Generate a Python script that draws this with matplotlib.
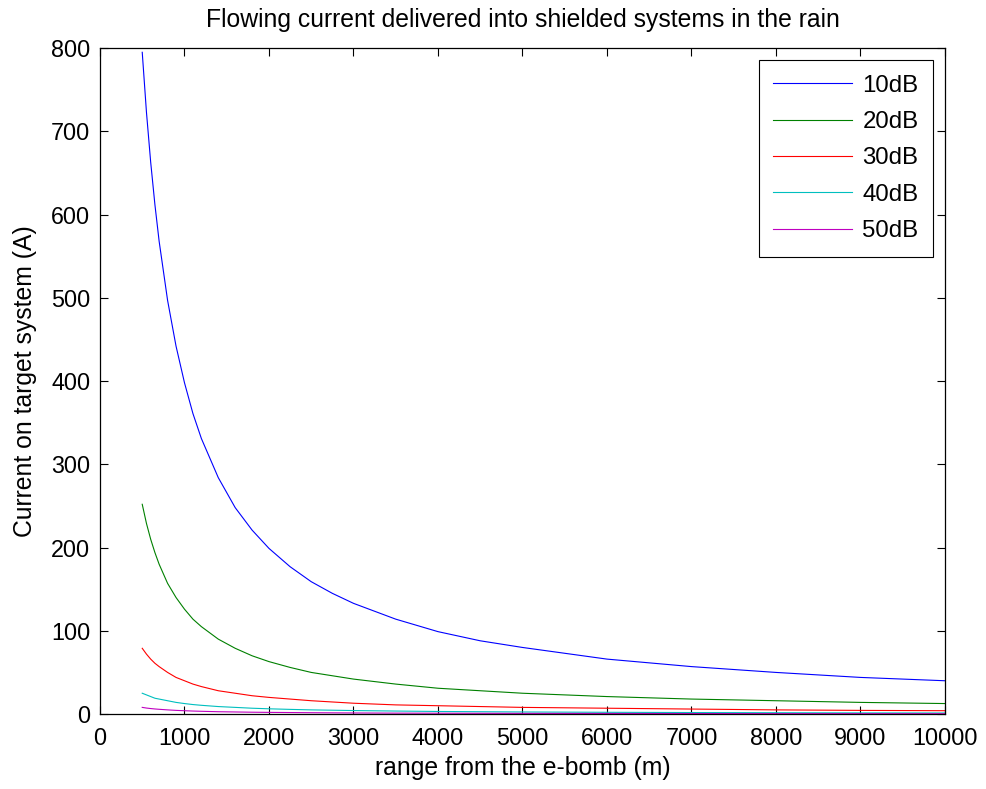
import numpy as np
import matplotlib.pyplot as plt

plt.rcParams['font.family'] = ['Liberation Sans', 'DejaVu Sans']

# range samples (m)
rng = [500, 550, 600, 650, 700, 800, 900, 1000, 1100, 1200, 1400, 1600, 1800, 2000,
       2250, 2500, 2750, 3000, 3500, 4000, 4500, 5000, 6000, 7000, 8000, 9000, 10000]
cur_10 = [795, 723, 663, 612, 568, 497, 442, 398, 361, 331, 284, 248, 221, 199,
          177, 159, 145, 133, 114, 99, 88, 80, 66, 57, 50, 44, 40]
cur_20 = [252, 229, 210, 194, 180, 157, 140, 126, 114, 105, 90, 79, 70, 63,
          56, 50, 46, 42, 36, 31, 28, 25, 21, 18, 16, 14, 12.6]
cur_30 = [79, 72, 66, 61, 57, 50, 44, 40, 36, 33, 28, 25, 22, 20,
          18, 16, 14.5, 13, 11, 10, 9, 8, 7, 6, 5, 4.4, 4]
cur_40 = [25, 23, 21, 19, 18, 16, 14, 12.6, 11.4, 10.5, 9, 8, 7, 6.3,
          5.6, 5, 4.6, 4.2, 3.6, 3.1, 2.8, 2.5, 2.1, 1.8, 1.6, 1.4, 1.3]
cur_50 = [8, 7.2, 6.6, 6.1, 5.7, 5, 4.4, 4, 3.6, 3.3, 2.8, 2.5, 2.2, 2,
          1.8, 1.6, 1.45, 1.3, 1.1, 1, 0.9, 0.8, 0.7, 0.6, 0.5, 0.44, 0.4]
labels = ['10dB', '20dB', '30dB', '40dB', '50dB']
colors = ['#0000ff', '#008000', '#ff0000', '#00bfbf', '#bf00bf']

fig = plt.figure(figsize=(9.87, 7.89), dpi=100)
ax = fig.add_axes([0.1013, 0.095, 0.8561, 0.844])

for ys, lab, c in zip([cur_10, cur_20, cur_30, cur_40, cur_50], labels, colors):
    ax.plot(rng, ys, color=c, lw=0.8, label=lab)

ax.set_xlim(0, 10000)
ax.set_ylim(0, 800)
ax.set_xticks(np.arange(0, 10001, 1000))
ax.set_yticks(np.arange(0, 801, 100))
ax.tick_params(direction='in', top=True, right=True, length=6, width=0.8,
               labelsize=16.8)
ax.tick_params(axis='x', pad=9)
ax.tick_params(axis='y', pad=7)
for s in ax.spines.values():
    s.set_linewidth(0.9)

ax.set_title('Flowing current delivered into shielded systems in the rain',
             fontsize=17.8, pad=15)
ax.set_xlabel('range from the e-bomb (m)', fontsize=17.8, labelpad=5)
ax.set_ylabel('Current on target system (A)', fontsize=17.8, labelpad=10)

leg = ax.legend(loc='upper right', fontsize=17.3, fancybox=False, framealpha=1,
                edgecolor='black', handlelength=3.25, borderaxespad=0.5,
                labelspacing=0.6, handletextpad=0.45, borderpad=0.6)
leg.get_frame().set_linewidth(0.8)

fig.savefig('out.png', dpi=100)
